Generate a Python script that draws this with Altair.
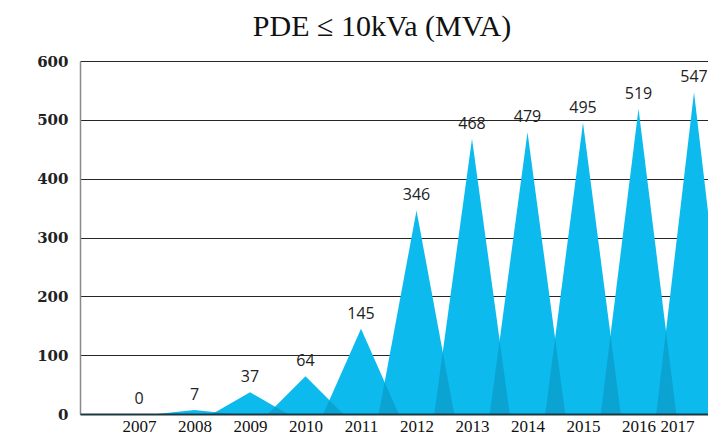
import altair as alt
import pandas as pd

years = [2007, 2008, 2009, 2010, 2011, 2012, 2013, 2014, 2015, 2016, 2017]
values = [0, 7, 37, 64, 145, 346, 468, 479, 495, 519, 547]
y_ticks = [0, 100, 200, 300, 400, 500, 600]
title_text = "PDE ≤ 10kVa (MVA)"

HALF = 0.68  # half base width of each spike, in years

# triangles built from the data
tri_rows = []
for yr, v in zip(years, values):
    tri_rows += [
        {"x": yr - HALF, "y": 0, "g": yr},
        {"x": yr, "y": v, "g": yr},
        {"x": yr + HALF, "y": 0, "g": yr},
    ]
tri = pd.DataFrame(tri_rows)

# overlap regions between neighbouring spikes
ov_rows = []
for i in range(len(years) - 1):
    xi, vi = years[i], values[i]
    xj, vj = years[i + 1], values[i + 1]
    if vi + vj == 0:
        continue
    xm = (HALF * (vi - vj) + vi * xi + vj * xj) / (vi + vj)
    ym = vi * (1 - (xm - xi) / HALF)
    ov_rows += [
        {"x": xj - HALF, "y": 0, "g": i},
        {"x": xm, "y": ym, "g": i},
        {"x": xi + HALF, "y": 0, "g": i},
    ]
ov = pd.DataFrame(ov_rows)

labels = pd.DataFrame({"x": years, "y": values})

xscale = alt.Scale(domain=[2005.937, 2017.252], nice=False, zero=False)
yscale = alt.Scale(domain=[0, 600], nice=False)

xaxis = alt.Axis(
    values=years, format="d", title=None, grid=False, ticks=False,
    labelFont="Liberation Serif", labelFontSize=17, labelColor="#111",
    labelPadding=4, labelFlush=20, labelOverlap=False, labelBound=False,
    domainColor="#1d3640", domainWidth=2, zindex=1,
)
yaxis = alt.Axis(
    values=y_ticks, title=None, ticks=False, grid=True,
    gridColor="#000", gridWidth=1, gridOpacity=0.85,
    domainColor="#8a8a8a", domainWidth=1.5,
    labelFont="DejaVu Serif", labelFontWeight="bold", labelFontSize=15,
    labelColor="#222", labelPadding=12,
)

base_tri = alt.Chart(tri).mark_area(color="#0DBAEE", clip=True, interpolate="linear").encode(
    x=alt.X("x:Q", scale=xscale, axis=xaxis),
    y=alt.Y("y:Q", scale=yscale, axis=yaxis, stack=None),
    detail="g:N",
)

over = alt.Chart(ov).mark_area(color="#0BA3D1", clip=True, interpolate="linear").encode(
    x=alt.X("x:Q", scale=xscale),
    y=alt.Y("y:Q", scale=yscale, stack=None),
    detail="g:N",
)

text = alt.Chart(labels).mark_text(
    font="Open Sans", fontSize=16, color="#222", baseline="bottom", dy=-7
).encode(
    x=alt.X("x:Q", scale=xscale),
    y=alt.Y("y:Q", scale=yscale),
    text=alt.Text("y:Q", format="d"),
)

chart = alt.layer(base_tri, over, text).properties(
    width=628,
    height=353,
    autosize=alt.AutoSizeParams(type="none"),
    padding={"left": 72, "top": 53, "right": 0, "bottom": 24},
    title=alt.TitleParams(
        title_text, font="Liberation Serif", fontSize=30, fontWeight="normal",
        color="#111", anchor="middle", dx=-12, offset=12,
    ),
).configure_view(stroke=None)

chart.save("out.html", embed_options={"renderer": "svg", "actions": False})
